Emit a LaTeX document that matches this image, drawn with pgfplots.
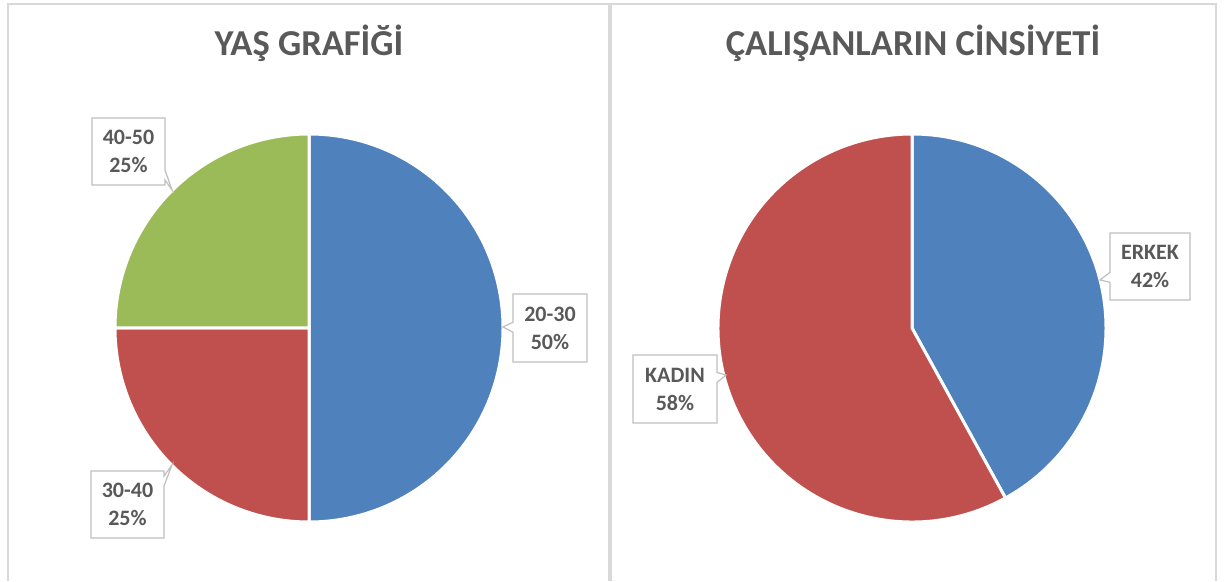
\documentclass[border=0pt]{standalone}
\usepackage{pgfplots}
\pgfplotsset{compat=1.18}
\usepackage{fontspec}
\setmainfont{Carlito}
\usetikzlibrary{shapes.callouts}
\definecolor{cblue}{HTML}{4F81BD}
\definecolor{cred}{HTML}{C0504D}
\definecolor{cgreen}{HTML}{9BBB59}
\definecolor{ctext}{HTML}{595959}
\definecolor{cbox}{HTML}{BFBFBF}
\definecolor{cpanel}{HTML}{D9D9D9}
% slice: center x, center y, start %, end %, colour (clockwise from 12 o'clock)
\newcommand{\pieslice}[5]{%
  \fill[#5, draw=white, line width=3pt, line join=round]
    (axis cs:#1,#2) -- ++({90-3.6*#3}:194pt)
    arc[start angle={90-3.6*#3}, end angle={90-3.6*#4}, radius=194pt] -- cycle;}
\tikzset{lbl/.style={rectangle callout, draw=cbox, line width=1.2pt, fill=white,
  text=ctext, font=\fontsize{22}{28}\selectfont\bfseries, align=center,
  inner sep=0pt, callout pointer width=10pt}}
\begin{document}
\begin{tikzpicture}
\begin{axis}[width=1228pt, height=581pt, scale only axis,
  xmin=0, xmax=1228, ymin=0, ymax=581, hide axis, clip=false]
\path (axis cs:0,0) rectangle (axis cs:1228,581);
% panels
\draw[cpanel, line width=1.5pt] (axis cs:8,0) -- (axis cs:8,577) -- (axis cs:609,577) -- (axis cs:609,0);
\draw[cpanel, line width=1.5pt] (axis cs:611,0) -- (axis cs:611,577) -- (axis cs:1216,577) -- (axis cs:1216,0);
% titles
\node[text=ctext, font=\fontsize{36.5}{44}\selectfont\bfseries, anchor=base] at (axis cs:309,525) {YAŞ GRAFİĞİ};
\node[text=ctext, font=\fontsize{36.5}{44}\selectfont\bfseries, anchor=base] at (axis cs:913,525) {ÇALIŞANLARIN CİNSİYETİ};
% age pie: 20-30 50%, 30-40 25%, 40-50 25%
\pieslice{309}{253}{0}{50}{cblue}
\pieslice{309}{253}{50}{75}{cred}
\pieslice{309}{253}{75}{100}{cgreen}
% gender pie: ERKEK 42%, KADIN 58%
\pieslice{912}{253}{0}{42}{cblue}
\pieslice{912}{253}{42}{100}{cred}
% labels
\node[lbl, minimum width=73pt, minimum height=67pt, callout absolute pointer={(axis cs:172,391)}] at (axis cs:128.5,429.5) {40-50\\25\%};
\node[lbl, minimum width=74pt, minimum height=68pt, callout absolute pointer={(axis cs:503,254)}] at (axis cs:550,253) {20-30\\50\%};
\node[lbl, minimum width=73pt, minimum height=67pt, callout absolute pointer={(axis cs:172,116)}] at (axis cs:127.5,76.5) {30-40\\25\%};
\node[lbl, minimum width=80pt, minimum height=67pt, callout absolute pointer={(axis cs:1100,301)}] at (axis cs:1150,314.5) {ERKEK\\42\%};
\node[lbl, minimum width=84pt, minimum height=68pt, callout absolute pointer={(axis cs:726,206)}] at (axis cs:675,192) {KADIN\\58\%};
\end{axis}
\end{tikzpicture}
\end{document}
